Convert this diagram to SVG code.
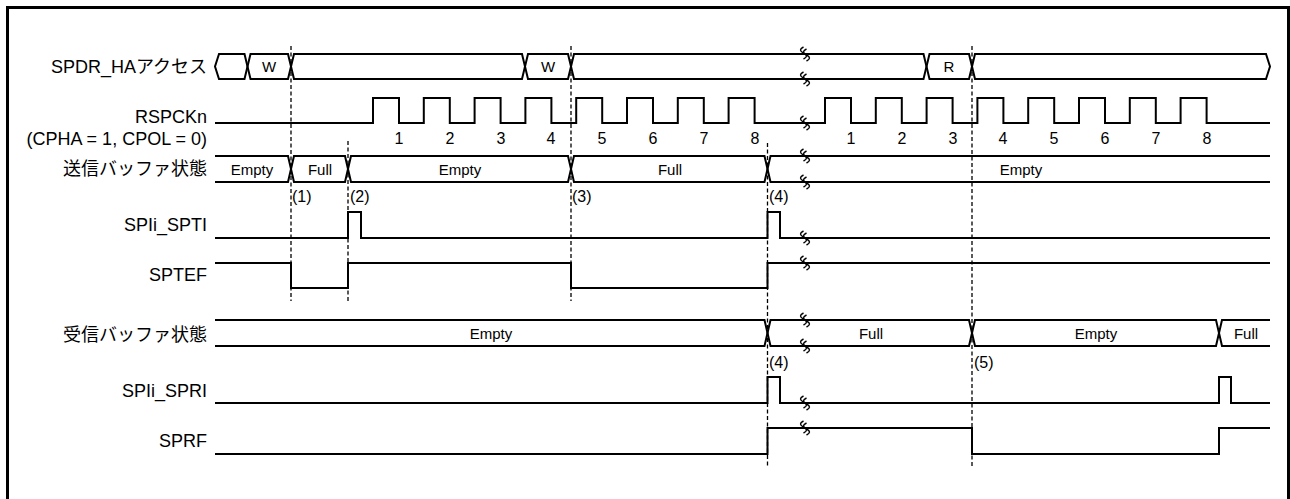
<svg xmlns="http://www.w3.org/2000/svg" xmlns:xlink="http://www.w3.org/1999/xlink" width="1290" height="499" viewBox="0 0 1290 499">
<style>
.sig{fill:none;stroke:#000;stroke-width:2;stroke-linejoin:miter}
.dash{fill:none;stroke:#000;stroke-width:1.3;stroke-dasharray:4 2.5}
.lbl{font-family:"Liberation Sans","Noto Sans CJK JP",sans-serif;font-size:18px;fill:#000;text-anchor:end}
.in{font-family:"Liberation Sans","Noto Sans CJK JP",sans-serif;font-size:15px;fill:#000;text-anchor:middle}
.num{font-family:"Liberation Sans",sans-serif;font-size:16px;fill:#000;text-anchor:middle}
.mk{font-family:"Liberation Sans",sans-serif;font-size:16px;fill:#000;text-anchor:start}
</style>
<defs>
<g id="brk" fill="none" stroke="#000" stroke-width="1.4">
<path d="M-1.5,-7 C-5.5,-5 -5.5,-3 -1.5,-1 C2.5,1 2.5,3 -1.5,5"/>
<path d="M1.5,-5 C-2.5,-3 -2.5,-1 1.5,1 C5.5,3 5.5,5 1.5,7"/>
</g>
</defs>
<rect x="7.5" y="7.5" width="1281" height="510" fill="#fff" stroke="#000" stroke-width="3"/>

<g id="spdr">
<text class="lbl" x="207" y="73">SPDR_HAアクセス</text>
<path class="sig" d="M219,54 L215,66.5 L219,79 L244.5,79 L247.5,66.5 L244.5,54 Z"/>
<path class="sig" d="M247.5,66.5 L250.5,54 L288,54 L291,66.5 L288,79 L250.5,79 Z"/>
<path class="sig" d="M291,66.5 L294,54 L522,54 L525,66.5 L522,79 L294,79 Z"/>
<path class="sig" d="M525,66.5 L528,54 L568,54 L571,66.5 L568,79 L528,79 Z"/>
<path class="sig" d="M571,66.5 L574,54 L923.5,54 L926.5,66.5 L923.5,79 L574,79 Z"/>
<path class="sig" d="M926.5,66.5 L929.5,54 L969,54 L972,66.5 L969,79 L929.5,79 Z"/>
<path class="sig" d="M972,66.5 L975,54 L1266,54 L1270,66.5 L1266,79 L975,79 Z"/>
<text class="in" x="269" y="72">W</text>
<text class="in" x="548" y="72">W</text>
<text class="in" x="949" y="72">R</text>
<use xlink:href="#brk" x="805" y="54"/>
<use xlink:href="#brk" x="805" y="79"/>
</g>

<g id="rspckn">
<text class="lbl" x="207" y="123">RSPCKn</text>
<text class="lbl" x="207" y="145">(CPHA = 1, CPOL = 0)</text>
<path class="sig" d="M215,123 H373 V98 H399 V123 H423.8 V98 H449.8 V123 H474.6 V98 H500.6 V123 H525.4 V98 H551.4 V123 H576.2 V98 H602.2 V123 H627 V98 H653 V123 H677.8 V98 H703.8 V123 H728.6 V98 H754.6 V123 H825 V98 H851 V123 H875.8 V98 H901.8 V123 H926.6 V98 H952.6 V123 H977.4 V98 H1003.4 V123 H1028.2 V98 H1054.2 V123 H1079 V98 H1105 V123 H1129.8 V98 H1155.8 V123 H1180.6 V98 H1206.6 V123 H1270"/>
<use xlink:href="#brk" x="805" y="123"/>
<text class="num" x="399" y="144">1</text>
<text class="num" x="450" y="144">2</text>
<text class="num" x="501" y="144">3</text>
<text class="num" x="551" y="144">4</text>
<text class="num" x="602" y="144">5</text>
<text class="num" x="653" y="144">6</text>
<text class="num" x="704" y="144">7</text>
<text class="num" x="755" y="144">8</text>
<text class="num" x="851" y="144">1</text>
<text class="num" x="902" y="144">2</text>
<text class="num" x="953" y="144">3</text>
<text class="num" x="1003" y="144">4</text>
<text class="num" x="1054" y="144">5</text>
<text class="num" x="1105" y="144">6</text>
<text class="num" x="1156" y="144">7</text>
<text class="num" x="1207" y="144">8</text>
</g>

<g id="txbuf">
<text class="lbl" x="207" y="175">送信バッファ状態</text>
<path class="sig" d="M215,156 H288 L291,169 L288,182 H215"/>
<path class="sig" d="M291,169 L294,156 L345,156 L348,169 L345,182 L294,182 Z"/>
<path class="sig" d="M348,169 L351,156 L568,156 L571,169 L568,182 L351,182 Z"/>
<path class="sig" d="M571,169 L574,156 L764.5,156 L767.5,169 L764.5,182 L574,182 Z"/>
<path class="sig" d="M1270,156 H770.5 L767.5,169 L770.5,182 H1270"/>
<text class="in" x="252" y="174.5">Empty</text>
<text class="in" x="320" y="174.5">Full</text>
<text class="in" x="460" y="174.5">Empty</text>
<text class="in" x="670" y="174.5">Full</text>
<text class="in" x="1021" y="174.5">Empty</text>
<use xlink:href="#brk" x="805" y="156"/>
<use xlink:href="#brk" x="805" y="182"/>
</g>

<g id="spti">
<text class="lbl" x="207" y="231">SPIi_SPTI</text>
<path class="sig" d="M215,238 H348 V212 H361 V238 H767.5 V212 H780 V238 H1270"/>
<use xlink:href="#brk" x="805" y="238"/>
</g>

<g id="sptef">
<text class="lbl" x="207" y="281">SPTEF</text>
<path class="sig" d="M215,263 H291 V288 H348 V263 H571 V288 H767.5 V263 H1270"/>
<use xlink:href="#brk" x="805" y="263"/>
</g>

<g id="rxbuf">
<text class="lbl" x="207" y="341">受信バッファ状態</text>
<path class="sig" d="M215,320 H764.5 L767.5,333 L764.5,346 H215"/>
<path class="sig" d="M767.5,333 L770.5,320 L969,320 L972,333 L969,346 L770.5,346 Z"/>
<path class="sig" d="M972,333 L975,320 L1216,320 L1219,333 L1216,346 L975,346 Z"/>
<path class="sig" d="M1270,320 H1222 L1219,333 L1222,346 H1270"/>
<text class="in" x="491" y="338.5">Empty</text>
<text class="in" x="871" y="338.5">Full</text>
<text class="in" x="1096" y="338.5">Empty</text>
<text class="in" x="1246" y="338.5">Full</text>
<use xlink:href="#brk" x="805" y="320"/>
<use xlink:href="#brk" x="805" y="346"/>
</g>

<g id="spri">
<text class="lbl" x="207" y="397">SPIi_SPRI</text>
<path class="sig" d="M215,403 H767.5 V377 H780 V403 H1219 V377 H1231 V403 H1270"/>
<use xlink:href="#brk" x="805" y="403"/>
</g>

<g id="sprf">
<text class="lbl" x="207" y="447">SPRF</text>
<path class="sig" d="M215,454 H767.5 V428 H972 V454 H1219 V428 H1270"/>
<use xlink:href="#brk" x="805" y="428"/>
</g>

<g id="connectors">
<line class="dash" x1="291" y1="46" x2="291" y2="301"/>
<line class="dash" x1="348" y1="141" x2="348" y2="301"/>
<line class="dash" x1="571" y1="46" x2="571" y2="301"/>
<line class="dash" x1="767.5" y1="143" x2="767.5" y2="467"/>
<line class="dash" x1="972" y1="46" x2="972" y2="467"/>
</g>

<g id="markers">
<text class="mk" x="292" y="202">(1)</text>
<text class="mk" x="350" y="202">(2)</text>
<text class="mk" x="572" y="202">(3)</text>
<text class="mk" x="769" y="202">(4)</text>
<text class="mk" x="769" y="368">(4)</text>
<text class="mk" x="974" y="368">(5)</text>
</g>
</svg>
